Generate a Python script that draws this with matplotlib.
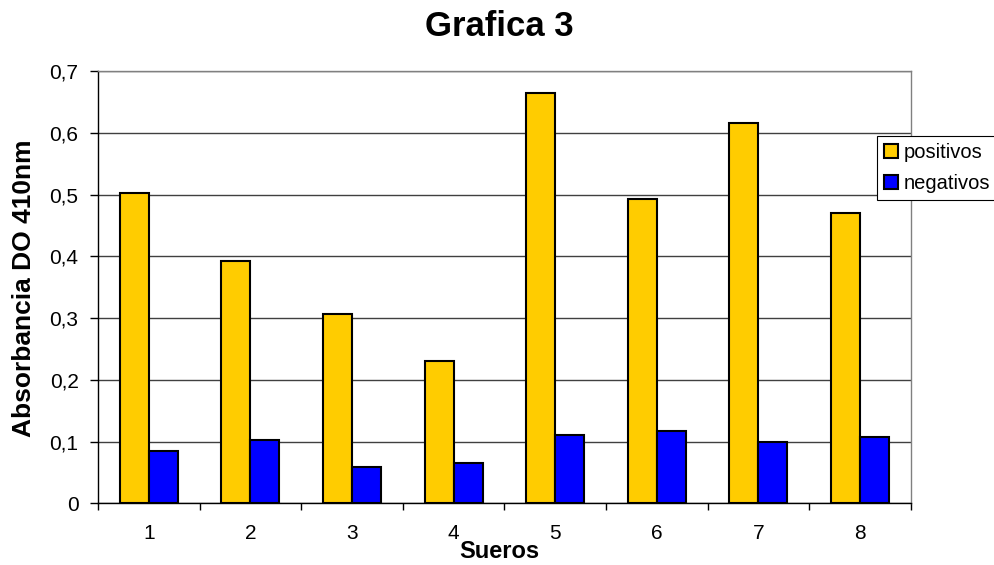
import matplotlib
matplotlib.use('Agg')
import matplotlib.pyplot as plt
import numpy as np
from matplotlib.ticker import FixedLocator, FuncFormatter

# datos de absorbancia por suero
sueros = ['1', '2', '3', '4', '5', '6', '7', '8']
positivos = [0.502, 0.392, 0.306, 0.230, 0.665, 0.492, 0.616, 0.470]
negativos = [0.084, 0.102, 0.058, 0.066, 0.110, 0.117, 0.099, 0.107]
yticks = [0, 0.1, 0.2, 0.3, 0.4, 0.5, 0.6, 0.7]

plt.rcParams['font.family'] = ['Liberation Sans', 'DejaVu Sans']

fig = plt.figure(figsize=(9.95, 5.65), dpi=100)
ax = fig.add_axes([0.0985, 0.1092, 0.8168, 0.7651])

x = np.arange(1, len(sueros) + 1)
w = 1 / 3.5  # ancho con separacion de 150%

ax.bar(x - w / 2, positivos, w, color='#FFCC00', edgecolor='black',
       linewidth=1.5, label='positivos', zorder=3)
ax.bar(x + w / 2, negativos, w, color='#0000FF', edgecolor='black',
       linewidth=1.5, label='negativos', zorder=3)

ax.set_xlim(0.5, len(sueros) + 0.5)
ax.set_ylim(0, 0.7)

ax.set_xticks(x)
ax.set_xticklabels(sueros)
ax.xaxis.set_minor_locator(FixedLocator(np.arange(0.5, len(sueros) + 1, 1)))
ax.tick_params(axis='x', which='major', length=0, pad=15, labelsize=15)
ax.tick_params(axis='x', which='minor', length=5, width=1, direction='out')

ax.set_yticks(yticks)
ax.yaxis.set_major_formatter(FuncFormatter(lambda v, p: ('%g' % round(v, 1)).replace('.', ',')))
ax.tick_params(axis='y', length=6, width=1, direction='out', pad=8, labelsize=15)

ax.yaxis.grid(True, color='#404040', linewidth=1, zorder=0)
ax.set_axisbelow(True)

ax.spines['left'].set_color('black')
ax.spines['bottom'].set_color('black')
ax.spines['top'].set_color('#808080')
ax.spines['right'].set_color('#808080')
for s in ax.spines.values():
    s.set_linewidth(1)

fig.text(499 / 995, 1 - 26 / 565, 'Grafica 3', ha='center', va='center',
         fontsize=25, fontweight='bold')
fig.text(24 / 995, 1 - 288 / 565, 'Absorbancia DO 410nm', rotation=90,
         ha='center', va='center', fontsize=19, fontweight='bold')
fig.text(499 / 995, 1 - 552 / 565, 'Sueros', ha='center', va='center',
         fontsize=17, fontweight='bold')

leg = ax.legend(loc='upper left', bbox_to_anchor=(877 / 995, 1 - 136 / 565),
                bbox_transform=fig.transFigure, fontsize=14.5, frameon=True,
                fancybox=False, framealpha=1, edgecolor='black',
                borderaxespad=0, handlelength=0.7, handleheight=0.7,
                handletextpad=0.3, borderpad=0.35, labelspacing=0.6)
leg.get_frame().set_linewidth(0.8)

fig.savefig('out.png', dpi=100)
